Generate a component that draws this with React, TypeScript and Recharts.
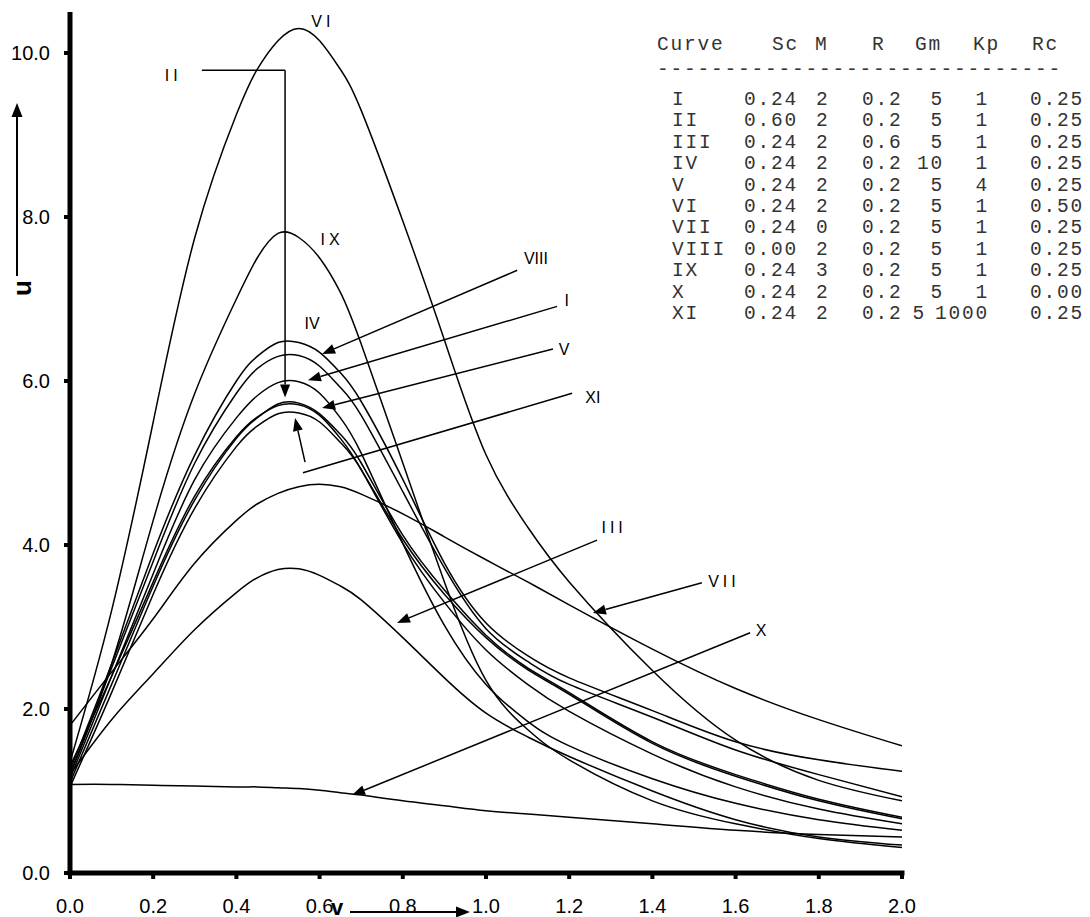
import React from 'react';
import { LineChart, Line, XAxis, YAxis, ReferenceLine, ReferenceDot } from 'recharts';

// ---------- data ----------
const V_GRID = [0, 0.1, 0.2, 0.3, 0.4, 0.45, 0.5, 0.55, 0.6, 0.65, 0.7, 0.8, 0.9, 1.0, 1.1, 1.2, 1.4, 1.6, 1.8, 2.0];

const CURVE_NAMES = ['I', 'II', 'III', 'IV', 'V', 'VI', 'VII', 'VIII', 'IX', 'X', 'XI'];

const U_I = [1.15, 2.4, 3.65, 4.8, 5.55, 5.82, 5.98, 5.99, 5.85, 5.55, 5.12, 4.02, 3.02, 2.3, 1.85, 1.55, 1.15, 0.85, 0.65, 0.52];
const U_II = [1.1, 2.3, 3.5, 4.55, 5.3, 5.55, 5.72, 5.73, 5.6, 5.35, 5.0, 4.12, 3.45, 2.9, 2.5, 2.2, 1.6, 1.2, 0.9, 0.68];
const U_III = [1.2, 1.87, 2.43, 2.97, 3.42, 3.6, 3.7, 3.71, 3.63, 3.5, 3.33, 2.87, 2.38, 1.95, 1.66, 1.42, 1.0, 0.65, 0.44, 0.34];
const U_IV = [1.25, 2.55, 3.9, 5.1, 6.0, 6.3, 6.47, 6.47, 6.35, 6.1, 5.75, 4.8, 3.78, 3.05, 2.65, 2.38, 1.98, 1.6, 1.38, 1.24];
const U_V = [1.3, 2.4, 3.55, 4.6, 5.32, 5.56, 5.7, 5.71, 5.58, 5.3, 4.92, 4.02, 3.3, 2.72, 2.3, 1.97, 1.45, 1.05, 0.78, 0.6];
const U_VI = [1.35, 3.2, 5.5, 7.75, 9.25, 9.8, 10.15, 10.3, 10.15, 9.8, 9.3, 7.95, 6.5, 5.1, 4.22, 3.55, 2.47, 1.62, 1.13, 0.88];
const U_VII = [1.8, 2.45, 3.1, 3.78, 4.3, 4.5, 4.63, 4.71, 4.74, 4.71, 4.62, 4.38, 4.1, 3.82, 3.55, 3.27, 2.73, 2.25, 1.87, 1.55];
const U_VIII = [1.2, 2.5, 3.8, 5.0, 5.85, 6.15, 6.3, 6.31, 6.18, 5.92, 5.58, 4.65, 3.72, 2.98, 2.58, 2.3, 1.9, 1.5, 1.2, 0.93];
const U_IX = [1.2, 2.55, 4.3, 5.85, 7.0, 7.5, 7.8, 7.75, 7.5, 7.08, 6.45, 5.0, 3.55, 2.35, 1.75, 1.38, 0.88, 0.6, 0.42, 0.31];
const U_X = [1.08, 1.08, 1.07, 1.06, 1.05, 1.05, 1.04, 1.03, 1.01, 0.98, 0.95, 0.88, 0.82, 0.76, 0.72, 0.68, 0.6, 0.52, 0.47, 0.44];
const U_XI = [1.05, 2.2, 3.4, 4.45, 5.2, 5.45, 5.6, 5.61, 5.5, 5.25, 4.92, 4.07, 3.4, 2.87, 2.48, 2.18, 1.58, 1.18, 0.88, 0.66];

const SERIES: Record<string, number[]> = {
  I: U_I, II: U_II, III: U_III, IV: U_IV, V: U_V, VI: U_VI,
  VII: U_VII, VIII: U_VIII, IX: U_IX, X: U_X, XI: U_XI,
};

const X_TICKS = [0, 0.2, 0.4, 0.6, 0.8, 1.0, 1.2, 1.4, 1.6, 1.8, 2.0];
const Y_TICKS = [0, 2, 4, 6, 8, 10];

// table values
const TABLE_HEADERS = ['Curve', 'Sc', 'M', 'R', 'Gm', 'Kp', 'Rc'];
const TABLE_SC = ['0.24', '0.60', '0.24', '0.24', '0.24', '0.24', '0.24', '0.00', '0.24', '0.24', '0.24'];
const TABLE_M = ['2', '2', '2', '2', '2', '2', '0', '2', '3', '2', '2'];
const TABLE_R = ['0.2', '0.2', '0.6', '0.2', '0.2', '0.2', '0.2', '0.2', '0.2', '0.2', '0.2'];
const TABLE_GM = ['5', '5', '5', '10', '5', '5', '5', '5', '5', '5', '5'];
const TABLE_KP = ['1', '1', '1', '1', '4', '1', '1', '1', '1', '1', '1000'];
const TABLE_RC = ['0.25', '0.25', '0.25', '0.25', '0.25', '0.50', '0.25', '0.25', '0.25', '0.00', '0.25'];

// curve labels (data coordinates)
const LABEL_TEXT = ['VI', 'II', 'IX', 'IV', 'VIII', 'I', 'V', 'XI', 'III', 'VII', 'X'];
const LABEL_V = [0.608, 0.248, 0.63, 0.582, 1.12, 1.194, 1.188, 1.257, 1.308, 1.572, 1.661];
const LABEL_U = [10.38, 9.73, 7.73, 6.7, 7.49, 6.98, 6.39, 5.8, 4.21, 3.56, 2.96];
const LABEL_SPACED = [true, true, true, false, false, false, false, false, true, true, false];

// annotation arrows (data coordinates): from (v1,u1) to (v2,u2)
const ARROW_V1 = [0.317, 0.517, 1.075, 1.171, 1.161, 1.207, 0.565, 1.267, 1.519, 1.635];
const ARROW_U1 = [9.79, 9.79, 7.35, 6.91, 6.39, 5.85, 5.01, 4.06, 3.54, 2.93];
const ARROW_V2 = [0.517, 0.517, 0.606, 0.572, 0.606, 0.56, 0.541, 0.786, 1.257, 0.678];
const ARROW_U2 = [9.79, 5.8, 6.33, 6.01, 5.67, 4.88, 5.55, 3.05, 3.17, 0.95];
const ARROW_HEAD = [false, true, true, true, true, false, true, true, true, true];

const chartData = V_GRID.map((v, i) => {
  const row: Record<string, number> = { v };
  CURVE_NAMES.forEach((n) => {
    row[n] = SERIES[n][i];
  });
  return row;
});

const SANS = '"Liberation Sans", Arial, Helvetica, sans-serif';
const MONO = '"Liberation Mono", "DejaVu Sans Mono", monospace';

function makeArrow(head: boolean) {
  return (p: any) => {
    const x1 = Number(p.x1), y1 = Number(p.y1), x2 = Number(p.x2), y2 = Number(p.y2);
    const dx = x2 - x1, dy = y2 - y1;
    const len = Math.hypot(dx, dy) || 1;
    const ux = dx / len, uy = dy / len;
    const L = 13, W = 5;
    const bx = x2 - ux * L, by = y2 - uy * L;
    const pts = `${x2},${y2} ${bx - uy * W},${by + ux * W} ${bx + uy * W},${by - ux * W}`;
    return (
      <g>
        <line x1={x1} y1={y1} x2={head ? bx : x2} y2={head ? by : y2} stroke="#000" strokeWidth={1.5} />
        {head && <polygon points={pts} fill="#000" />}
      </g>
    );
  };
}

function makeLabel(text: string, spaced: boolean) {
  return (p: any) => (
    <text
      x={Number(p.cx)}
      y={Number(p.cy)}
      dy="0.35em"
      textAnchor="middle"
      fontFamily={SANS}
      fontSize={16}
      letterSpacing={spaced ? 4 : 0}
      fill="#000"
    >
      {text}
    </text>
  );
}

const HEADER_X = [657, 772, 815, 872, 915, 973, 1032];
const ROW_BASE = 105;
const ROW_STEP = 21.4;

function Table() {
  const common = { fontFamily: MONO, fontSize: 19.5, letterSpacing: 1.8, fill: '#333' } as const;
  return (
    <g>
      {TABLE_HEADERS.map((h, i) => (
        <text key={h} x={HEADER_X[i]} y={50} {...common}>
          {h}
        </text>
      ))}
      <text x={657} y={75} {...common}>
        {'------------------------------'}
      </text>
      {CURVE_NAMES.map((n, i) => {
        const y = ROW_BASE + i * ROW_STEP;
        const wideKp = TABLE_KP[i].length > 1;
        return (
          <g key={n}>
            <text x={672} y={y} {...common}>{n}</text>
            <text x={744} y={y} {...common}>{TABLE_SC[i]}</text>
            <text x={816} y={y} {...common}>{TABLE_M[i]}</text>
            <text x={862} y={y} {...common}>{TABLE_R[i]}</text>
            <text x={wideKp ? 926 : 944} y={y} textAnchor="end" {...common}>{TABLE_GM[i]}</text>
            <text x={989} y={y} textAnchor="end" {...common}>{TABLE_KP[i]}</text>
            <text x={1030} y={y} {...common}>{TABLE_RC[i]}</text>
          </g>
        );
      })}
    </g>
  );
}

function AxisTitles() {
  return (
    <g>
      {/* y title */}
      <text
        x={31}
        y={288}
        transform="rotate(-90 31 288)"
        textAnchor="middle"
        fontFamily={SANS}
        fontWeight="bold"
        fontSize={26}
        fill="#000"
      >
        u
      </text>
      <line x1={17} y1={276} x2={17} y2={116} stroke="#000" strokeWidth={2} />
      <polygon points="17,103 11.5,117 22.5,117" fill="#000" />
      {/* x title */}
      <text x={337} y={915} textAnchor="middle" fontFamily={SANS} fontWeight="bold" fontSize={22} fill="#000">
        v
      </text>
      <line x1={350} y1={912} x2={457} y2={912} stroke="#000" strokeWidth={2} />
      <polygon points="470,912 456,906.5 456,917.5" fill="#000" />
    </g>
  );
}

export default function App() {
  return (
    <div style={{ position: 'absolute', left: 0, top: 0, width: 1090, height: 917, background: '#fff', overflow: 'hidden' }}>
      <LineChart
        width={1090}
        height={917}
        data={chartData}
        margin={{ top: 12, right: 188, bottom: 4, left: 10 }}
      >
        <XAxis
          type="number"
          dataKey="v"
          domain={[0, 2]}
          ticks={X_TICKS}
          interval={0}
          allowDataOverflow
          tickFormatter={(t: number) => t.toFixed(1)}
          axisLine={{ stroke: '#000', strokeWidth: 5, strokeLinecap: 'square' }}
          tickLine={{ stroke: '#000', strokeWidth: 4 }}
          tickSize={6}
          tickMargin={20}
          height={40}
          tick={{ fill: '#000', fontSize: 20, fontFamily: SANS }}
        />
        <YAxis
          type="number"
          domain={[0, 10.5]}
          ticks={Y_TICKS}
          interval={0}
          allowDataOverflow
          tickFormatter={(t: number) => t.toFixed(1)}
          axisLine={{ stroke: '#000', strokeWidth: 5 }}
          tickLine={{ stroke: '#000', strokeWidth: 4 }}
          tickSize={6}
          tickMargin={14}
          width={60}
          tick={{ fill: '#000', fontSize: 20, fontFamily: SANS }}
        />
        {CURVE_NAMES.map((n) => (
          <Line
            key={n}
            type="natural"
            dataKey={n}
            stroke="#000"
            strokeWidth={1.5}
            dot={false}
            activeDot={false}
            isAnimationActive={false}
          />
        ))}
        {ARROW_V1.map((_, i) => (
          <ReferenceLine
            key={`a${i}`}
            segment={[
              { x: ARROW_V1[i], y: ARROW_U1[i] },
              { x: ARROW_V2[i], y: ARROW_U2[i] },
            ]}
            ifOverflow="visible"
            shape={makeArrow(ARROW_HEAD[i])}
          />
        ))}
        {LABEL_TEXT.map((t, i) => (
          <ReferenceDot
            key={`l${i}`}
            x={LABEL_V[i]}
            y={LABEL_U[i]}
            r={0}
            ifOverflow="visible"
            shape={makeLabel(t, LABEL_SPACED[i])}
          />
        ))}
      </LineChart>
      <svg
        width={1090}
        height={917}
        style={{ position: 'absolute', left: 0, top: 0, pointerEvents: 'none' }}
      >
        <Table />
        <AxisTitles />
      </svg>
    </div>
  );
}
